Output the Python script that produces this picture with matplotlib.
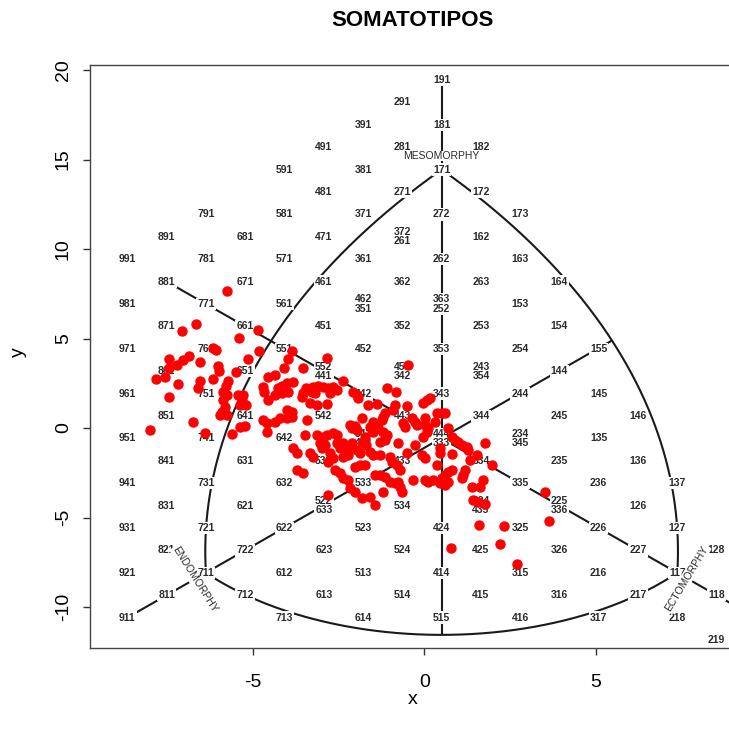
import numpy as np
import matplotlib.pyplot as plt

plt.rcParams['font.family'] = ['Liberation Sans', 'DejaVu Sans']
plt.rcParams['axes.unicode_minus'] = False

# somatotype codes printed on the chart ("a/b" = two codes on the same spot)
chart_codes = [
    '191', '291', '391', '181', '491', '281', '182', '591', '381', '171',
    '481', '271', '172', '791', '581', '371', '272', '173', '891', '681',
    '471', '372/261', '162', '991', '781', '571', '361', '262', '163', '881',
    '671', '461', '362', '263', '164', '981', '771', '561', '462/351',
    '363/252', '153', '871', '661', '451', '352', '253', '154', '971', '761',
    '551', '452', '353', '254', '155', '861', '651', '552/441', '453/342',
    '243/354', '144', '961', '751', '541', '442', '343', '244', '145', '851',
    '641', '542', '443', '344', '245', '146', '951', '741', '642', '543/432',
    '444/333', '234/345', '135', '841', '631', '532', '433', '334', '235',
    '136', '941', '731', '632', '533', '335', '236', '137', '831', '621',
    '522/633', '534', '324/435', '225/336', '126', '931', '721', '622', '523',
    '424', '325', '226', '127', '821', '722', '623', '524', '425', '326',
    '227', '128', '921', '711', '612', '513', '414', '315', '216', '117',
    '811', '712', '613', '514', '415', '316', '217', '118', '911', '713',
    '614', '515', '416', '317', '218', '219',
]

# subjects, left group (endomorph side)
pts_left = [
    (-5.77, 7.65), (-6.66, 5.79), (-7.06, 5.44), (-4.85, 5.47), (-5.41, 5.04),
    (-6.16, 4.45), (-6.08, 4.36), (-4.83, 4.32), (-3.87, 4.32), (-6.87, 4.04),
    (-7.03, 3.80), (-7.44, 3.85), (-5.14, 3.85), (-6.55, 3.70), (-3.97, 3.85),
    (-7.21, 3.52), (-7.46, 3.34), (-6.01, 3.46), (-5.99, 3.20), (-5.48, 3.15),
    (-4.10, 3.34), (-7.56, 2.87), (-7.83, 2.74), (-6.16, 2.72), (-6.55, 2.64),
    (-5.72, 2.63), (-4.55, 2.87), (-4.36, 2.96), (-7.18, 2.46), (-6.59, 2.22),
    (-5.79, 2.35), (-5.88, 1.99), (-4.70, 2.31), (-4.68, 2.03), (-4.26, 2.22),
    (-4.16, 2.35), (-4.02, 2.50), (-3.83, 2.59), (-4.36, 1.84), (-4.16, 1.94),
    (-3.97, 2.03), (-7.44, 1.75), (-5.75, 1.84), (-5.43, 1.84), (-5.28, 1.84),
    (-5.33, 1.56), (-5.87, 1.56), (-5.82, 1.19), (-4.55, 1.56), (-5.38, 1.28),
    (-5.20, 1.28), (-5.91, 0.91), (-5.96, 0.73), (-5.77, 0.73), (-4.02, 1.01),
    (-3.87, 0.91), (-3.87, 0.63), (-4.70, 0.45), (-4.60, 0.26), (-4.36, 0.35),
    (-4.21, 0.54), (-4.02, 0.54), (-6.74, 0.35), (-8.00, -0.11), (-5.38, 0.04),
    (-5.23, 0.13), (-6.39, -0.30), (-5.62, -0.35), (-4.60, -0.21), (-3.83, -1.13),
    (-3.73, -1.41),
]

# subjects, central group
pts_mid = [
    (-2.85, 3.89), (-3.55, 3.37), (-0.47, 3.52), (-3.45, 2.22), (-3.53, 1.94),
    (-3.58, 1.75), (-3.24, 2.31), (-3.10, 2.36), (-2.95, 2.31), (-2.80, 2.25),
    (-2.66, 2.31), (-2.56, 2.12), (-3.29, 2.03), (-3.19, 1.94), (-2.37, 2.63),
    (-2.76, 1.94), (-2.08, 2.03), (-1.98, 1.84), (-1.93, 1.69), (-1.08, 2.22),
    (-0.84, 2.03), (-3.34, 1.38), (-3.14, 1.28), (-2.85, 1.32), (-1.64, 1.28),
    (-1.39, 1.32), (-0.86, 1.28), (-0.91, 1.01), (-0.52, 1.25), (-0.03, 1.38),
    (0.06, 1.56), (0.16, 1.66), (-3.43, 0.45), (-1.83, 0.54), (-1.15, 0.82),
    (-1.20, 0.63), (-1.25, 0.45), (-1.49, 0.35), (-0.62, 0.26), (-0.57, 0.07),
    (-0.37, 0.54), (-0.28, 0.35), (-0.23, 0.17), (0.01, 0.54), (0.01, 0.17),
    (0.11, -0.02), (-2.17, 0.17), (-2.11, 0.00), (-2.03, 0.11), (-1.97, -0.11),
    (-3.48, -0.39), (-3.14, -0.39), (-2.95, -0.49), (-2.85, -0.39), (-2.66, -0.30),
    (-2.56, -0.39), (-1.59, 0.07), (-1.49, -0.21), (-1.35, -0.02), (-1.20, -0.21),
    (-1.10, -0.39), (-1.15, -0.67), (-1.30, -0.77), (-1.73, -0.49), (-1.78, -0.77),
    (-1.69, -0.95), (-0.76, -0.85), (-0.28, -0.95), (-0.03, -0.49), (0.06, -0.21),
    (-3.05, -0.85), (-2.90, -0.95), (-3.00, -1.13), (-2.56, -0.85), (-2.46, -1.13),
    (-2.32, -1.23), (-2.17, -1.04), (-2.12, -0.85), (-2.37, -0.85), (-1.98, -1.23),
    (-1.88, -1.41), (-1.59, -1.32), (-1.49, -1.51), (-1.30, -1.51), (-1.01, -1.60),
    (-0.96, -1.88), (-0.81, -2.07), (-0.52, -1.41), (-0.08, -1.51), (0.01, -1.69),
    (-3.34, -1.41), (-3.24, -1.60), (-2.76, -1.41), (-2.66, -1.69), (-2.80, -1.88),
    (-2.37, -1.60), (-2.22, -1.51), (-3.73, -2.35), (-3.53, -2.53), (-2.61, -2.35),
    (-2.46, -2.53), (-2.37, -2.81), (-2.22, -2.91), (-2.03, -2.16), (-1.88, -2.07),
    (-1.73, -2.07), (-1.44, -2.63), (-1.30, -2.63), (-1.15, -2.72), (-0.71, -2.35),
    (-0.33, -2.91), (0.01, -2.91), (0.11, -3.00), (-2.17, -3.37), (-2.03, -3.56),
    (-1.01, -3.00), (-0.86, -3.09), (-0.76, -3.00), (-0.71, -3.28), (-1.20, -3.56),
    (-0.66, -3.56), (-2.80, -3.74), (-1.83, -3.93), (-1.59, -3.84), (-1.44, -4.30),
]

# subjects, right group (towards ectomorphy)
pts_right = [
    (0.36, 0.82), (0.50, 0.82), (0.60, 0.82), (0.31, 0.35), (0.69, -0.02),
    (0.79, -0.49), (0.89, -0.67), (0.99, -0.77), (1.08, -0.95), (1.23, -1.04),
    (1.28, -1.23), (1.76, -0.82), (1.52, -1.51), (1.33, -1.79), (1.96, -2.07),
    (0.45, -1.13), (0.45, -1.41), (0.79, -1.45), (0.36, -2.07), (0.69, -2.44),
    (0.79, -2.35), (0.60, -2.63), (1.18, -2.35), (1.13, -2.63), (1.08, -2.81),
    (0.50, -2.81), (0.45, -3.09), (0.60, -3.18), (0.69, -3.00), (0.26, -2.91),
    (1.38, -3.28), (1.62, -3.28), (1.71, -2.91), (1.42, -4.02), (1.57, -4.12),
    (1.76, -4.25), (3.51, -3.56), (1.60, -5.42), (2.32, -5.46), (3.64, -5.20),
    (2.20, -6.50), (0.77, -6.72), (2.69, -7.61),
]

# the printed chart is stretched over the plot: plot = k * somatochart + offset
KX, X0 = 1.145, 0.5
KY, Y0 = 1.2516, -0.58


def to_plot(X, Y):
    return KX * np.asarray(X) + X0, KY * np.asarray(Y) + Y0


def soma_xy(code):
    endo, meso, ecto = (int(c) for c in code)
    return ecto - endo, 2 * meso - endo - ecto


def circle3(p1, p2, p3):
    (ax_, ay_), (bx, by), (cx, cy) = p1, p2, p3
    d = 2 * (ax_ * (by - cy) + bx * (cy - ay_) + cx * (ay_ - by))
    ux = ((ax_**2 + ay_**2) * (by - cy) + (bx**2 + by**2) * (cy - ay_)
          + (cx**2 + cy**2) * (ay_ - by)) / d
    uy = ((ax_**2 + ay_**2) * (cx - bx) + (bx**2 + by**2) * (ax_ - cx)
          + (cx**2 + cy**2) * (bx - ax_)) / d
    return ux, uy, np.hypot(ax_ - ux, ay_ - uy)


def arc_pts(p1, p2, via, n=300):
    ux, uy, r = circle3(p1, p2, via)
    a1 = np.arctan2(p1[1] - uy, p1[0] - ux)
    a2 = a1 + (np.arctan2(p2[1] - uy, p2[0] - ux) - a1) % (2 * np.pi)
    a3 = a1 + (np.arctan2(via[1] - uy, via[0] - ux) - a1) % (2 * np.pi)
    if a3 > a2:
        a2 -= 2 * np.pi
    t = np.linspace(a1, a2, n)
    return ux + r * np.cos(t), uy + r * np.sin(t)


ENDO, MESO, ECTO = soma_xy('711'), soma_xy('171'), soma_xy('117')

fig = plt.figure(figsize=(7.29, 7.39), dpi=100)
ax = fig.add_axes([90 / 729, 1 - 648 / 739, 648 / 729, 583 / 739])
ax.set_xlim(-9.75, 9.14)
ax.set_ylim(-12.29, 20.28)

line_kw = dict(color='#1a1a1a', lw=1.5, zorder=2, solid_capstyle='butt')

# curved borders of the somatochart
left_arc = arc_pts(ENDO, MESO, (-4.28, 4.52))
right_arc = arc_pts(MESO, ECTO, (4.28, 4.52))
bottom_arc = arc_pts(ENDO, ECTO, (0.0, -8.77))
for X, Y in (left_arc, right_arc, bottom_arc):
    ax.plot(*to_plot(X, Y), **line_kw)

# the three axes of the chart
X, Y = right_arc
k = np.argmin(np.abs(X - Y))
ax.plot(*to_plot([-8, X[k]], [-8, Y[k]]), **line_kw)
ax.plot(*to_plot([-7, 8], [7, -8]), **line_kw)
ax.plot(*to_plot([0, 0], [16, bottom_arc[1].min()]), **line_kw)

label_kw = dict(ha='center', va='center', fontsize=7.5, color='#2a2a2a',
                fontweight='bold', zorder=3, linespacing=0.9,
                bbox=dict(facecolor='white', edgecolor='none', pad=0.8))
for code in chart_codes:
    px, py = to_plot(*soma_xy(code.split('/')[0]))
    ax.text(px, py, code.replace('/', '\n'), **label_kw)

name_kw = dict(label_kw, fontweight='normal', fontsize=7.5)
ax.text(*to_plot(0, 12.62), 'MESOMORPHY',
        **dict(name_kw, zorder=3.5,
               bbox=dict(facecolor='white', edgecolor='none', pad=0.0)))
ax.text(*to_plot(-6.28, -6.32), 'ENDOMORPHY', rotation=-58, **name_kw)
ax.text(*to_plot(6.24, -6.25), 'ECTOMORPHY', rotation=59, **name_kw)

# subjects
pts = np.array(pts_left + pts_mid + pts_right)
ax.plot(pts[:, 0], pts[:, 1], 'o', color='red', ms=6.5, mec='red', zorder=4)

ax.set_xticks([-5, 0, 5])
ax.set_yticks([-10, -5, 0, 5, 10, 15, 20])
ax.tick_params(axis='both', direction='out', length=5, width=1,
               color='#333333', labelsize=14)
ax.tick_params(axis='x', pad=14)
ax.tick_params(axis='y', pad=8, labelrotation=90)
for lab in ax.get_yticklabels():
    lab.set_va('center')
for sp in ax.spines.values():
    sp.set_color('#444444')
    sp.set_linewidth(1.0)

fig.text(413 / 729, 1 - 20 / 739, 'SOMATOTIPOS', ha='center', va='center',
         fontsize=16, fontweight='bold')
fig.text(413 / 729, 1 - 700 / 739, 'x', ha='center', va='center', fontsize=14)
fig.text(18 / 729, 1 - 352 / 739, 'y', ha='center', va='center', fontsize=14,
         rotation=90)

fig.savefig('out.png', dpi=100)
